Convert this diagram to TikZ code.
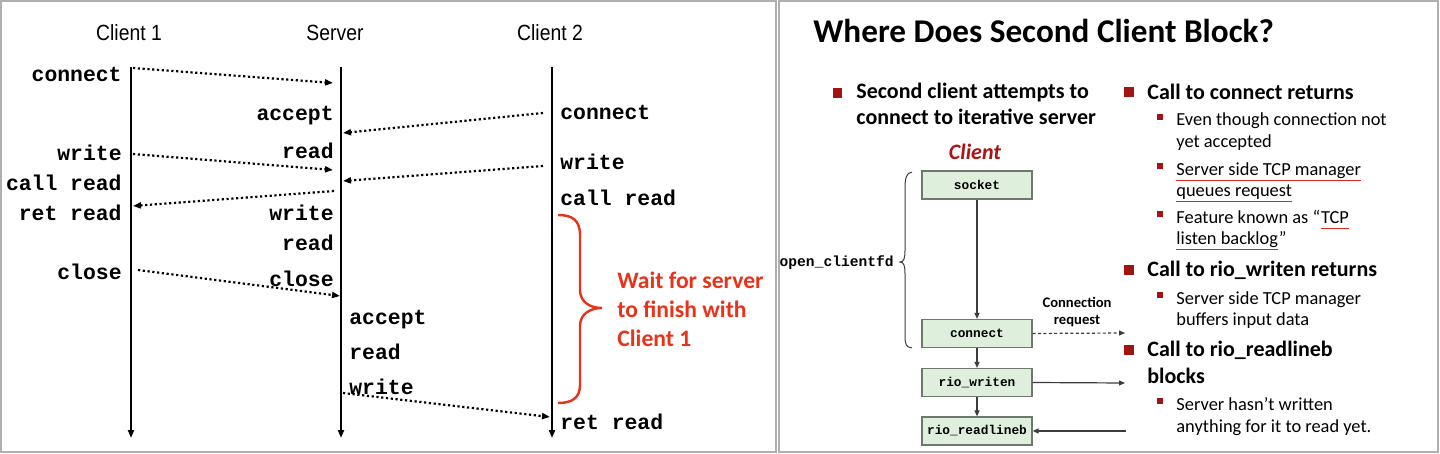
\documentclass[tikz,border=0pt]{standalone}
\usepackage{fontspec}
\setmainfont{Carlito}
\newfontfamily\hfont{Liberation Sans}
\newfontfamily\cfont{Liberation Mono}
\usetikzlibrary{arrows.meta}
\definecolor{wred}{RGB}{232,50,25}
\definecolor{dred}{RGB}{170,20,20}
\definecolor{bsq}{RGB}{160,20,20}
\definecolor{bfill}{RGB}{222,240,220}
\definecolor{bline}{RGB}{110,120,110}
\definecolor{frm}{RGB}{175,175,175}
\definecolor{uline}{RGB}{222,40,30}
\definecolor{gline}{RGB}{60,60,60}
\begin{document}
\begin{tikzpicture}[x=0.5pt,y=-0.5pt,
  hdr/.style={font=\hfont\fontsize{11}{13}\selectfont, inner sep=0pt, anchor=mid, yshift=-2pt},
  code/.style={font=\cfont\bfseries\fontsize{10.7}{12}\selectfont, inner sep=0pt, yshift=-1.5pt},
  lbl/.style={code, anchor=mid east},
  rbl/.style={code, anchor=mid west},
  tline/.style={line width=1pt, -{Triangle[length=4pt,width=3pt]}},
  msg/.style={line width=1.1pt, dash pattern=on 1.1pt off 1.3pt, -{Triangle[length=4pt,width=3pt]}},
  boxn/.style={draw=bline, fill=bfill, line width=0.6pt, minimum width=55pt, minimum height=14pt, inner sep=0pt, font=\cfont\bfseries\fontsize{6.4}{8}\selectfont},
  flow/.style={gline, line width=0.6pt, -{Triangle[length=3pt,width=2.5pt]}},
  mtxt/.style={font=\bfseries\fontsize{11}{13}\selectfont, anchor=mid west, inner sep=0pt, yshift=-1.25pt},
  stxtb/.style={font=\fontsize{9.2}{11}\selectfont, inner sep=0pt},
  stxt/.style={stxtb, anchor=mid west, yshift=-1.25pt},
  bigsq/.style={fill=bsq, minimum size=4.6pt, inner sep=0pt},
  smsq/.style={fill=bsq, minimum size=3pt, inner sep=0pt},
  uln/.style={uline, line width=0.6pt}
]
\useasboundingbox (0,0) rectangle (1440,454);
\fill[white] (0,0) rectangle (1440,454);
% panel frames
\draw[frm, line width=0.75pt] (1,1) rectangle (776,452);
\draw[frm, line width=0.75pt] (779,1) rectangle (1438,452);

% ---------------- left panel ----------------
\node[hdr] (h1) at (129,32) {\scalebox{0.88}[1]{Client 1}};
\node[hdr] (h2) at (335,32) {\scalebox{0.88}[1]{Server}};
\node[hdr] (h3) at (550,32) {\scalebox{0.88}[1]{Client 2}};

\coordinate (c1t) at (131,67); \coordinate (c1b) at (131,438);
\coordinate (svt) at (341,67); \coordinate (svb) at (341,438);
\coordinate (c2t) at (552,67); \coordinate (c2b) at (552,438);
\draw[tline] (c1t) -- (c1b);
\draw[tline] (svt) -- (svb);
\draw[tline] (c2t) -- (c2b);

% client 1 labels
\node[lbl] (a1) at (122,74) {connect};
\node[lbl] (a2) at (122,153) {write};
\node[lbl] (a3) at (122,183) {call read};
\node[lbl] (a4) at (122,213) {ret read};
\node[lbl] (a5) at (122,272) {close};
% server labels (client 1 phase)
\node[lbl] (s1) at (334,113) {accept};
\node[lbl] (s2) at (334,151) {read};
\node[lbl] (s3) at (334,213) {write};
\node[lbl] (s4) at (334,243) {read};
\node[lbl] (s5) at (334,279) {close};
% server labels (client 2 phase)
\node[rbl] (s6) at (349,317) {accept};
\node[rbl] (s7) at (349,352) {read};
\node[rbl] (s8) at (349,387) {write};
% client 2 labels
\node[rbl] (b1) at (560,112) {connect};
\node[rbl] (b2) at (560,162) {write};
\node[rbl] (b3) at (560,198) {call read};
\node[rbl] (b4) at (560,422) {ret read};

% messages
\coordinate (m1a) at (133,68);  \coordinate (m1b) at (333,83);
\coordinate (m2a) at (543,113); \coordinate (m2b) at (343,133);
\coordinate (m3a) at (133,154); \coordinate (m3b) at (333,170);
\coordinate (m4a) at (543,166); \coordinate (m4b) at (343,181);
\coordinate (m5a) at (334,191); \coordinate (m5b) at (133,206);
\coordinate (m6a) at (138,270); \coordinate (m6b) at (340,296);
\coordinate (m7a) at (343,393); \coordinate (m7b) at (550,417);
\draw[msg] (m1a) -- (m1b);
\draw[msg] (m2a) -- (m2b);
\draw[msg] (m3a) -- (m3b);
\draw[msg] (m4a) -- (m4b);
\draw[msg] (m5a) -- (m5b);
\draw[msg] (m6a) -- (m6b);
\draw[msg] (m7a) -- (m7b);

% red brace
\draw[wred, line width=1.2pt] (558,215) .. controls (572,215) and (580,220) .. (580,235)
  -- (580,290) .. controls (580,302) and (590,308) .. (602,308)
  .. controls (590,308) and (580,314) .. (580,326)
  -- (580,385) .. controls (580,398) and (572,403) .. (558,403);
\node[font=\bfseries\fontsize{11.8}{14.5}\selectfont, text=wred, align=left, anchor=west, inner sep=0pt] (wait) at (617,309)
  {Wait for server\\to finish with\\Client 1};

% ---------------- right panel ----------------
\node[font=\bfseries\fontsize{16.6}{20}\selectfont, anchor=mid west, inner sep=0pt, yshift=-2.5pt] (title) at (813,33) {Where Does Second Client Block?};

\node[bigsq] (q1) at (837.5,93) {};
\node[font=\bfseries\fontsize{11}{13}\selectfont, align=left, anchor=west, inner sep=0pt] (t1) at (856,104)
  {Second client attempts to\\connect to iterative server};

\node[font=\bfseries\itshape\fontsize{11}{13}\selectfont, text=dred, inner sep=0pt, anchor=mid, yshift=-1pt] (cl) at (975,153) {Client};

\node[boxn] (sock) at (977,185) {socket};
\node[boxn] (conn) at (977,333.5) {connect};
\node[boxn] (wr) at (977,382.5) {rio\_writen};
\node[boxn] (rd) at (977,431) {rio\_readlineb};
\draw[flow] (sock) -- (conn);
\draw[flow] (conn) -- (wr);
\draw[flow] (wr) -- (rd);

\coordinate (e1) at (1125,333);
\coordinate (e2) at (1125,383);
\coordinate (e3) at (1126,431);
\draw[flow, dash pattern=on 1.5pt off 1.2pt] (conn.east) -- (e1);
\draw[flow] (wr.east) -- (e2);
\draw[flow] (e3) -- (rd.east);
\node[font=\bfseries\fontsize{7.3}{8.6}\selectfont, align=center, inner sep=0pt] (creq) at (1077,312) {Connection\\request};

% brace open_clientfd
\draw[gline, line width=0.5pt] (912,172) .. controls (906,173) and (905,178) .. (905,190)
  -- (905,250) .. controls (905,258) and (904,262) .. (900,262)
  .. controls (904,262) and (905,266) .. (905,274)
  -- (905,335) .. controls (905,345) and (906,347) .. (912,348);
\node[font=\cfont\bfseries\fontsize{7.3}{9}\selectfont, anchor=mid east, inner sep=0pt] (ocf) at (894,262) {open\_clientfd};

% right column bullets
\node[bigsq] (q2) at (1129,92) {};
\node[mtxt] (r1) at (1147,92) {Call to connect returns};
\node[smsq] (p1) at (1160,117) {};
\node[stxt] (r1a) at (1176,118) {Even though connection not};
\node[stxt] (r1b) at (1176,140) {yet accepted};
\node[smsq] (p2) at (1160,166) {};
\node[stxt] (r1c) at (1176,168) {Server side TCP manager};
\node[stxt] (r1d) at (1176,189) {queues request};
\node[smsq] (p3) at (1160,214) {};
\node[stxt] (r1e) at (1176,216) {Feature known as “};
\node[stxtb, anchor=base west] (r1f) at (r1e.base east) {TCP};
\node[stxt] (r1g) at (1176,237) {listen backlog};
\node[stxtb, anchor=base west] (r1h) at (r1g.base east) {”};
\draw[uln] ([yshift=-2.5pt]r1c.base west) -- ([yshift=-2.5pt]r1c.base east);
\draw[uln] ([yshift=-2.5pt]r1d.base west) -- ([yshift=-2.5pt]r1d.base east);
\draw[uln] ([yshift=-2.5pt]r1f.base west) -- ([yshift=-2.5pt]r1f.base east);
\draw[uln] ([yshift=-2.5pt]r1g.base west) -- ([yshift=-2.5pt]r1g.base east);

\node[bigsq] (q3) at (1129,270) {};
\node[mtxt] (r2) at (1147,269) {Call to rio\_writen returns};
\node[smsq] (p4) at (1160,295) {};
\node[stxt] (r2a) at (1176,297) {Server side TCP manager};
\node[stxt] (r2b) at (1176,318) {buffers input data};

\node[bigsq] (q4) at (1129,350) {};
\node[mtxt] (r3) at (1147,349) {Call to rio\_readlineb};
\node[mtxt] (r3b) at (1147,376) {blocks};
\node[smsq] (p5) at (1160,401) {};
\node[stxt] (r3c) at (1176,403) {Server hasn’t written};
\node[stxt] (r3d) at (1176,425) {anything for it to read yet.};
\end{tikzpicture}
\end{document}
